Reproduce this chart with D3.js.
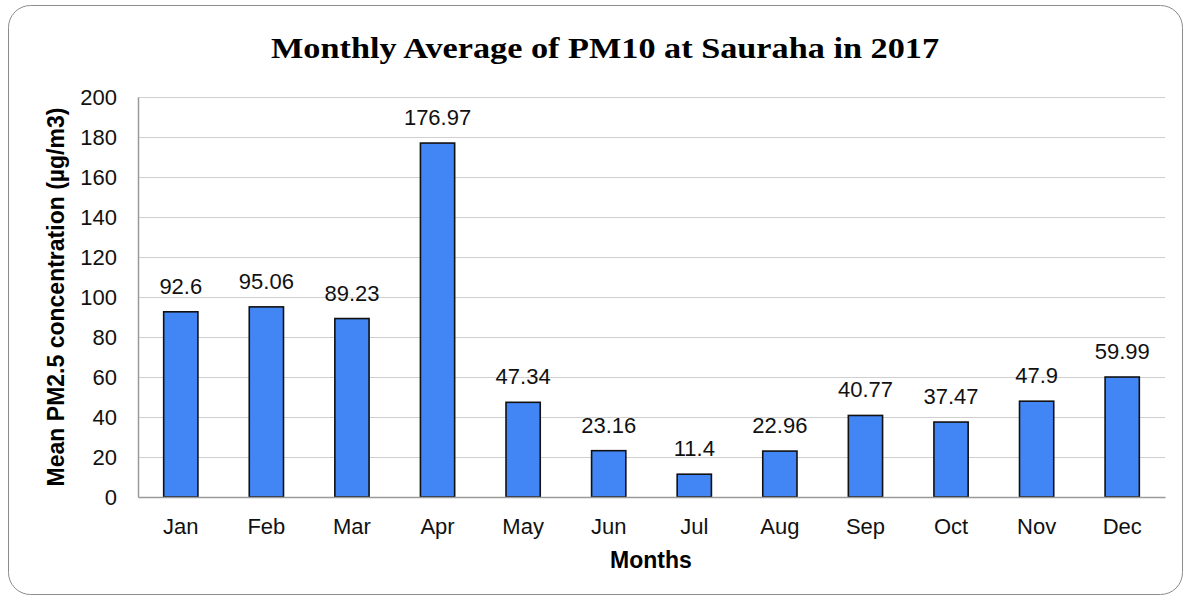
<!DOCTYPE html>
<html><head><meta charset="utf-8">
<script src="https://cdn.jsdelivr.net/npm/d3@7"></script>
<style>body{margin:0;background:#fff;} svg{display:block;}</style>
</head><body>
<script>
const months = ["Jan","Feb","Mar","Apr","May","Jun","Jul","Aug","Sep","Oct","Nov","Dec"];
const values = [92.6,95.06,89.23,176.97,47.34,23.16,11.4,22.96,40.77,37.47,47.9,59.99];
const valueLabels = ["92.6","95.06","89.23","176.97","47.34","23.16","11.4","22.96","40.77","37.47","47.9","59.99"];
const yTicks = [0,20,40,60,80,100,120,140,160,180,200];
const title = "Monthly Average of PM10 at Sauraha in 2017";
const xTitle = "Months";
const yTitle = "Mean PM2.5 concentration (µg/m3)";

const W = 1191, H = 602;
const m = {left:138, right:1165, top:97, bottom:497};
const svg = d3.select("body").append("svg").attr("width",W).attr("height",H);
const sans = "'Liberation Sans', Arial, sans-serif";

svg.append("rect").attr("x",8.5).attr("y",5.5).attr("width",1174).attr("height",589)
  .attr("rx",22).attr("fill","#fff").attr("stroke","#8c8c8c").attr("stroke-width",1);

const x = d3.scaleBand().domain(months).range([m.left,m.right]).paddingInner(0.6).paddingOuter(0.3);
const y = d3.scaleLinear().domain([0,200]).range([m.bottom,m.top]);

// gridlines
svg.append("g").selectAll("line").data(yTicks.filter(d=>d>0)).join("line")
  .attr("x1",m.left).attr("x2",m.right)
  .attr("y1",d=>Math.round(y(d))+0.5).attr("y2",d=>Math.round(y(d))+0.5)
  .attr("stroke","#cfcfcf").attr("stroke-width",1.2);

// y axis
const yAxis = svg.append("g").attr("transform",`translate(${m.left},0)`)
  .call(d3.axisLeft(y).tickValues(yTicks).tickSize(0).tickPadding(21));
yAxis.select(".domain").attr("stroke","#9a9a9a").attr("stroke-width",1.5);
yAxis.selectAll("text").attr("font-family",sans).attr("font-size",22).attr("fill","#111");

// bars
svg.append("g").selectAll("rect").data(values).join("rect")
  .attr("x",(d,i)=>x(months[i])).attr("width",x.bandwidth())
  .attr("y",d=>y(d)).attr("height",d=>y(0)-y(d))
  .attr("fill","#4285f4").attr("stroke","#111").attr("stroke-width",1.6);

// x axis
const xAxis = svg.append("g").attr("transform",`translate(0,${m.bottom})`)
  .call(d3.axisBottom(x).tickSize(0).tickPadding(21));
xAxis.select(".domain").attr("stroke","#9a9a9a").attr("stroke-width",1.5);
xAxis.selectAll("text").attr("font-family",sans).attr("font-size",22).attr("fill","#111");

// value labels
svg.append("g").selectAll("text").data(values).join("text")
  .attr("x",(d,i)=>x(months[i])+x.bandwidth()/2).attr("y",d=>y(d)-18)
  .attr("text-anchor","middle")
  .attr("font-family",sans).attr("font-size",22).attr("fill","#111")
  .text((d,i)=>valueLabels[i]);

// title
svg.append("text").attr("x",605).attr("y",58).attr("text-anchor","middle")
  .attr("font-family","'Liberation Serif', 'DejaVu Serif', serif").attr("font-weight","bold").attr("font-size",30)
  .attr("textLength",668).attr("lengthAdjust","spacingAndGlyphs")
  .attr("fill","#000").text(title);

svg.append("text").attr("x",651).attr("y",568).attr("text-anchor","middle")
  .attr("font-family",sans).attr("font-weight","bold").attr("font-size",23)
  .attr("fill","#000").text(xTitle);

svg.append("text").attr("transform","translate(64,297) rotate(-90)").attr("text-anchor","middle")
  .attr("font-family",sans).attr("font-weight","bold").attr("font-size",23)
  .attr("fill","#000").text(yTitle);
</script>
</body></html>
